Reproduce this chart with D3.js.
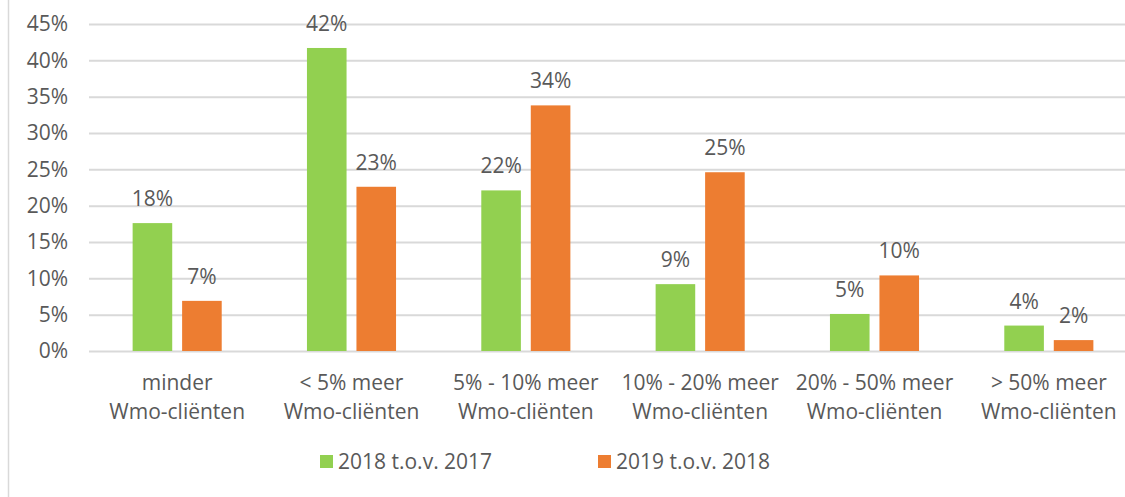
<!DOCTYPE html>
<html>
<head>
<meta charset="utf-8">
<script src="https://cdn.jsdelivr.net/npm/d3@7"></script>
<style>
  body { margin: 0; background: #fff; }
  svg { display: block; font-family: "Open Sans", sans-serif; }
</style>
</head>
<body>
<svg id="chart" width="1125" height="497"></svg>
<script>
// data
var categories = [
  ["minder", "Wmo-cliënten"],
  ["< 5% meer", "Wmo-cliënten"],
  ["5% - 10% meer", "Wmo-cliënten"],
  ["10% - 20% meer", "Wmo-cliënten"],
  ["20% - 50% meer", "Wmo-cliënten"],
  ["> 50% meer", "Wmo-cliënten"]
]
var series = ["2018 t.o.v. 2017", "2019 t.o.v. 2018"]
var values2018 = [0.176, 0.417, 0.221, 0.092, 0.051, 0.035]
var values2019 = [0.069, 0.226, 0.338, 0.246, 0.104, 0.015]
var yTicks = [0, 0.05, 0.10, 0.15, 0.20, 0.25, 0.30, 0.35, 0.40, 0.45]
var colors = ["#92d050", "#ed7d31"]

var svg = d3.select('#chart')
var textColor = '#595959'
var gridColor = '#d9d9d9'
var fontSize = '21px'

// frame line on the left
svg.append('line')
    .attr('x1', 8.5).attr('x2', 8.5)
    .attr('y1', 0).attr('y2', 497)
    .attr('stroke', gridColor)
    .attr('stroke-width', 1.5)

var keys = categories.map(function(c, i) { return i })
var x0 = d3.scaleBand()
    .domain(keys)
    .range([90, 1136])
    .paddingInner(0.489)
    .paddingOuter(0.2445)
var x1 = d3.scaleBand()
    .domain(series)
    .range([0, x0.bandwidth()])
    .paddingInner(0.2)
var y = d3.scaleLinear()
    .domain([0, 0.45])
    .range([351, 24])

// gridlines + y labels
var yAxis = d3.axisLeft(y)
    .tickValues(yTicks)
    .tickFormat(d3.format('.0%'))
    .tickSize(-1040)
    .tickPadding(21)
var ga = svg.append('g')
    .attr('transform', 'translate(89,0)')
    .call(yAxis)
ga.select('.domain').remove()
ga.selectAll('.tick line')
    .attr('stroke', gridColor)
    .attr('stroke-width', 2)
ga.selectAll('.tick text')
    .attr('fill', textColor)
    .style('font-family', '"Open Sans", sans-serif')
    .style('font-size', fontSize)

// bars
var rows = keys.map(function(i) {
  return [
    { s: series[0], v: values2018[i], c: colors[0] },
    { s: series[1], v: values2019[i], c: colors[1] }
  ]
})
var groups = svg.append('g')
  .selectAll('g')
  .data(rows)
  .join('g')
    .attr('transform', function(d, i) { return 'translate(' + x0(i) + ',0)' })

groups.selectAll('rect')
  .data(function(d) { return d })
  .join('rect')
    .attr('x', function(d) { return x1(d.s) })
    .attr('width', x1.bandwidth())
    .attr('y', function(d) { return y(d.v) })
    .attr('height', function(d) { return y(0) - y(d.v) })
    .attr('fill', function(d) { return d.c })

groups.selectAll('text')
  .data(function(d) { return d })
  .join('text')
    .attr('x', function(d) { return x1(d.s) + x1.bandwidth() / 2 })
    .attr('y', function(d) { return y(d.v) - 17 })
    .attr('text-anchor', 'middle')
    .attr('fill', textColor)
    .style('font-size', fontSize)
    .text(function(d) { return Math.round(d.v * 100) + '%' })

// category labels
var cats = svg.append('g')
  .selectAll('text')
  .data(categories)
  .join('text')
    .attr('text-anchor', 'middle')
    .attr('fill', textColor)
    .style('font-size', fontSize)
    .attr('transform', function(d, i) { return 'translate(' + (x0(i) + x0.bandwidth() / 2) + ',0)' })
cats.selectAll('tspan')
  .data(function(d) { return d })
  .join('tspan')
    .attr('x', 0)
    .attr('y', function(d, i) { return 390 + i * 29 })
    .text(function(d) { return d })

// legend
var legendX = [320, 598]
var legend = svg.append('g')
  .selectAll('g')
  .data(series)
  .join('g')
    .attr('transform', function(d, i) { return 'translate(' + legendX[i] + ',455)' })
legend.append('rect')
    .attr('width', 13).attr('height', 13)
    .attr('fill', function(d, i) { return colors[i] })
legend.append('text')
    .attr('x', 18)
    .attr('y', 14)
    .attr('fill', textColor)
    .style('font-size', fontSize)
    .text(function(d) { return d })
</script>
</body>
</html>
